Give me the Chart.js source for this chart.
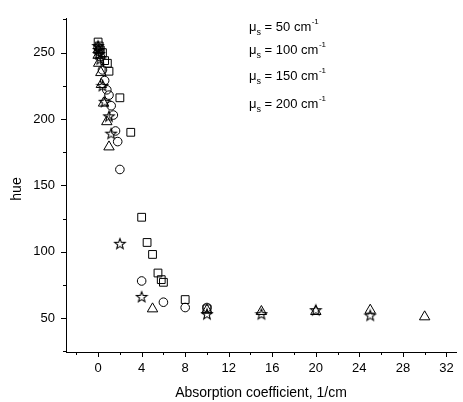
<!DOCTYPE html>
<html>
<head>
<meta charset="utf-8">
<script src="https://cdn.jsdelivr.net/npm/chart.js@4.4.1/dist/chart.umd.min.js"></script>
<style>
html,body{margin:0;padding:0;background:#fff;}
#wrap{width:463px;height:402px;}
</style>
</head>
<body>
<div id="wrap"><canvas id="c" width="463" height="402"></canvas></div>
<script>
// ---- data ----
const seriesLabels = ['50', '100', '150', '200'];

const squareX = [0, 0.1, 0.2, 0.4, 0.6, 0.85, 1.0, 2.0, 3.0, 4.0, 4.5, 5.0, 5.5, 5.8, 6.0, 8.0, 10.0];
const squareY = [258, 255, 252, 250, 244, 242, 236, 216, 190, 126, 107, 98, 84, 79, 77, 64, 57];

const circleX = [0, 0.1, 0.2, 0.4, 0.6, 0.8, 1.0, 1.2, 1.4, 1.6, 1.8, 2.0, 4.0, 6.0, 8.0, 10.0];
const circleY = [254, 251, 247, 237, 229, 222, 218, 210, 203, 191, 183, 162, 78, 62, 58, 58];

const triangleX = [0, 0, 0.05, 0.25, 0.3, 0.5, 0.8, 1.0, 5.0, 10.0, 15.0, 20.0, 25.0, 30.0];
const triangleY = [252, 248, 242, 235, 226, 212, 198, 179, 57, 56, 55, 55, 56, 51];

const starX = [0, 0.05, 0.1, 0.2, 0.4, 0.6, 1.0, 1.2, 2.0, 4.0, 10.0, 15.0, 20.0, 25.0];
const starY = [255, 252, 249, 245, 225, 213, 202, 189, 106, 66, 53, 53, 56, 52];

const xTicks = [-2, 0, 2, 4, 6, 8, 10, 12, 14, 16, 18, 20, 22, 24, 26, 28, 30, 32];
const yTicks = [25, 50, 75, 100, 125, 150, 175, 200, 225, 250, 275];

const xTitle = 'Absorption coefficient, 1/cm';
const yTitle = 'hue';

function pts(xs, ys) { return xs.map((x, i) => ({x: x, y: ys[i]})); }

// star marker (hollow 5-point star)
function makeStar() {
  const c = document.createElement('canvas');
  c.width = 14; c.height = 14;
  const g = c.getContext('2d');
  const cx = 7, cy = 7.3, R = 5.6, r = 2.3;
  g.beginPath();
  for (let i = 0; i < 10; i++) {
    const rad = (i % 2 === 0) ? R : r;
    const a = -Math.PI / 2 + i * Math.PI / 5;
    const px = cx + rad * Math.cos(a), py = cy + rad * Math.sin(a);
    if (i === 0) g.moveTo(px, py); else g.lineTo(px, py);
  }
  g.closePath();
  g.strokeStyle = '#000';
  g.lineWidth = 1.05;
  g.stroke();
  return c;
}
const starImg = makeStar();

const FONT = '"Liberation Sans", Arial, sans-serif';

const overlay = {
  id: 'overlay',
  afterDraw(chart) {
    const ctx = chart.ctx;
    const xs = chart.scales.x, ys = chart.scales.y;
    ctx.save();
    ctx.strokeStyle = '#000';
    ctx.lineWidth = 1;
    // tick marks (outward, major longer)
    const bottom = chart.chartArea.bottom;
    xTicks.forEach(v => {
      const p = Math.round(xs.getPixelForValue(v)) + 0.5;
      const len = (v % 4 === 0) ? 5 : 3;
      ctx.beginPath(); ctx.moveTo(p, bottom); ctx.lineTo(p, bottom + len); ctx.stroke();
    });
    const left = chart.chartArea.left;
    yTicks.forEach(v => {
      const p = Math.round(ys.getPixelForValue(v)) + 0.5;
      const len = (v % 50 === 0) ? 5 : 3;
      ctx.beginPath(); ctx.moveTo(left, p); ctx.lineTo(left - len, p); ctx.stroke();
    });
    // axis titles
    ctx.fillStyle = '#000';
    ctx.font = '14px ' + FONT;
    ctx.textAlign = 'center';
    ctx.textBaseline = 'alphabetic';
    ctx.fillText(xTitle, (chart.chartArea.left + chart.chartArea.right) / 2, 397);
    ctx.save();
    ctx.translate(21, 189);
    ctx.rotate(-Math.PI / 2);
    ctx.fillText(yTitle, 0, 0);
    ctx.restore();
    // legend text (no markers in the reference)
    const lineY = [31, 54, 80, 108];
    ctx.textAlign = 'left';
    seriesLabels.forEach((lab, i) => {
      let x = 249;
      const by = lineY[i];
      ctx.font = '13px ' + FONT;
      ctx.fillText('\u03bc', x, by);
      x += ctx.measureText('\u03bc').width;
      ctx.font = '9px ' + FONT;
      ctx.fillText('s', x, by + 4);
      x += ctx.measureText('s').width;
      ctx.font = '13px ' + FONT;
      const main = ' = ' + lab + ' cm';
      ctx.fillText(main, x, by);
      x += ctx.measureText(main).width + 0.5;
      ctx.font = '8px ' + FONT;
      ctx.fillText('-1', x, by - 7);
    });
    ctx.restore();
  }
};

const common = {borderColor: '#000', backgroundColor: 'rgba(0,0,0,0)', borderWidth: 1, showLine: false, pointHoverRadius: 0};

new Chart(document.getElementById('c'), {
  type: 'scatter',
  data: {
    datasets: [
      Object.assign({label: seriesLabels[0], data: pts(squareX, squareY), pointStyle: 'rect', pointRadius: 5.5}, common),
      Object.assign({label: seriesLabels[1], data: pts(circleX, circleY), pointStyle: 'circle', pointRadius: 4.3}, common),
      Object.assign({label: seriesLabels[2], data: pts(triangleX, triangleY), pointStyle: 'triangle', pointRadius: 6}, common),
      Object.assign({label: seriesLabels[3], data: pts(starX, starY), pointStyle: starImg, pointRadius: 6}, common)
    ]
  },
  options: {
    responsive: false,
    animation: false,
    devicePixelRatio: 1,
    layout: {padding: {top: 7, right: 0, left: 0, bottom: 0}},
    plugins: {legend: {display: false}, tooltip: {enabled: false}},
    scales: {
      x: {
        type: 'linear',
        min: -2.95, max: 32.88,
        afterBuildTicks: s => { s.ticks = xTicks.map(v => ({value: v})); },
        afterFit: s => { s.height = 50; },
        grid: {display: false, drawTicks: false},
        border: {display: true, color: '#000', width: 1},
        ticks: {
          autoSkip: false, maxRotation: 0, padding: 9, color: '#000',
          font: {family: FONT, size: 13},
          callback: v => (v % 4 === 0 ? String(v) : '')
        }
      },
      y: {
        type: 'linear',
        min: 24.5, max: 275.5,
        afterBuildTicks: s => { s.ticks = yTicks.map(v => ({value: v})); },
        afterFit: s => { s.width = 66; },
        grid: {display: false, drawTicks: false},
        border: {display: true, color: '#000', width: 1},
        ticks: {
          autoSkip: false, padding: 11, color: '#000',
          font: {family: FONT, size: 13},
          callback: v => (v % 50 === 0 ? String(v) : '')
        }
      }
    }
  },
  plugins: [overlay]
});
</script>
</body>
</html>
